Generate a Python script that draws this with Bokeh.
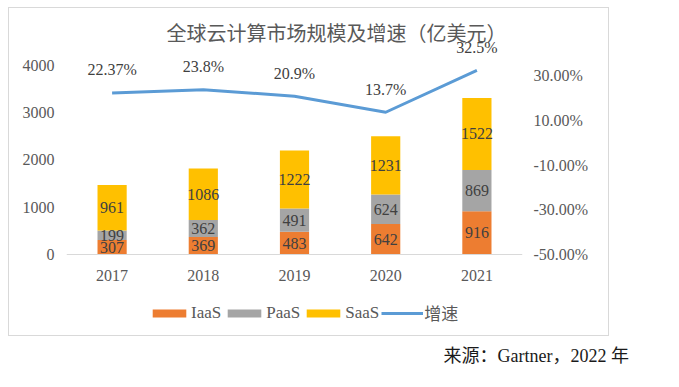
from bokeh.plotting import figure
from bokeh.models import (Range1d, LinearAxis, FactorRange, FixedTicker, PrintfTickFormatter,
                          Legend, LegendItem, Label, LabelSet, ColumnDataSource, Title)
from bokeh.embed import file_html
from bokeh.resources import INLINE

# ---- data ----
years = ["2017", "2018", "2019", "2020", "2021"]
iaas = [307, 369, 483, 642, 916]
paas = [199, 362, 491, 624, 869]
saas = [961, 1086, 1222, 1231, 1522]
growth = [22.37, 23.8, 20.9, 13.7, 32.5]
growth_labels = ["22.37%", "23.8%", "20.9%", "13.7%", "32.5%"]
left_ticks = [0, 1000, 2000, 3000, 4000]
right_ticks = [-50, -30, -10, 10, 30]
series_names = ["IaaS", "PaaS", "SaaS"]
title_text = "全球云计算市场规模及增速（亿美元）"
source_text = "来源：Gartner，2022 年"

SERIF = "'Liberation Serif', 'Noto Sans CJK SC'"
TXT = "#595959"
LBL = "#404040"
COLORS = ["#ED7D31", "#A5A5A5", "#FFC000"]
LINE = "#5B9BD5"
BOX = "#D9D9D9"

# light frame round the chart, painted behind a transparent canvas
g = f"linear-gradient({BOX},{BOX})"
box_style = {
    "background-image": ", ".join([g] * 4),
    "background-size": "601px 1px, 601px 1px, 1px 329px, 1px 329px",
    "background-position": "8px 7px, 8px 335px, 8px 7px, 608px 7px",
    "background-repeat": "no-repeat",
}

# frame spans page y 16..340 and x 66..522; value 0 sits at page y 254
p = figure(width=679, height=387,
           x_range=FactorRange(*years, range_padding=0),
           y_range=Range1d(-1816, 5026),
           output_backend="svg", toolbar_location=None,
           min_border_left=66, min_border_right=157,
           min_border_top=16, min_border_bottom=47,
           styles=box_style)
p.extra_y_ranges = {"pct": Range1d(-88.51, 56.58)}
p.outline_line_color = None
p.xgrid.grid_line_color = None
p.ygrid.grid_line_color = None
p.border_fill_alpha = 0
p.background_fill_alpha = 0

src = ColumnDataSource(dict(years=years, IaaS=iaas, PaaS=paas, SaaS=saas))
bars = p.vbar_stack(series_names, x="years", width=0.32, color=COLORS,
                    line_color=None, source=src)

# segment label positions derived from data
mid_i = [a / 2 for a in iaas]
mid_p = [a + b / 2 for a, b in zip(iaas, paas)]
mid_s = [a + b + c / 2 for a, b, c in zip(iaas, paas, saas)]
lsrc = ColumnDataSource(dict(years=years,
                             mi=mid_i, mp=mid_p, ms=mid_s,
                             ti=[str(v) for v in iaas],
                             tp=[str(v) for v in paas],
                             ts=[str(v) for v in saas]))
for yk, tk in (("mi", "ti"), ("mp", "tp"), ("ms", "ts")):
    p.add_layout(LabelSet(x="years", y=yk, text=tk, source=lsrc,
                          text_align="center", text_baseline="middle",
                          text_font=SERIF, text_font_size="16px", text_color=LBL))

line = p.line(x=years, y=growth, y_range_name="pct", line_width=3, line_color=LINE)
gsrc = ColumnDataSource(dict(years=years, g=growth, t=growth_labels))
p.add_layout(LabelSet(x="years", y="g", text="t", source=gsrc, y_range_name="pct",
                      y_offset=23, text_align="center", text_baseline="middle",
                      text_font=SERIF, text_font_size="16px", text_color=LBL))

# title inside the (taller) frame
p.add_layout(Label(x=100, y=308, x_units="screen", y_units="screen", text=title_text,
                   text_align="left", text_baseline="middle",
                   text_font="'Noto Sans CJK SC'", text_font_size="20px", text_color=TXT))

# axes
ya = p.yaxis[0]
ya.ticker = FixedTicker(ticks=left_ticks)
ya.axis_line_color = None
ya.major_tick_line_color = None
ya.minor_tick_line_color = None
ya.major_tick_out = 0
ya.minor_tick_out = 0
ya.major_label_standoff = 12
ya.major_label_text_font = SERIF
ya.major_label_text_font_size = "16px"
ya.major_label_text_color = TXT

xa = p.xaxis[0]
xa.fixed_location = 0
xa.axis_line_color = BOX
xa.major_tick_line_color = None
xa.minor_tick_line_color = None
xa.major_tick_out = 0
xa.minor_tick_out = 0
xa.major_label_standoff = 15
xa.major_label_text_font = SERIF
xa.major_label_text_font_size = "16px"
xa.major_label_text_color = TXT

ra = LinearAxis(y_range_name="pct", ticker=FixedTicker(ticks=right_ticks),
                formatter=PrintfTickFormatter(format="%.2f%%"))
ra.axis_line_color = None
ra.major_tick_line_color = None
ra.minor_tick_line_color = None
ra.major_tick_out = 0
ra.minor_tick_out = 0
ra.major_label_standoff = 11
ra.major_label_text_font = SERIF
ra.major_label_text_font_size = "16px"
ra.major_label_text_color = TXT
p.add_layout(ra, "right")

# legend inside the frame, under the axis
legend = Legend(items=[LegendItem(label=series_names[0], renderers=[bars[0]]),
                       LegendItem(label=series_names[1], renderers=[bars[1]]),
                       LegendItem(label=series_names[2], renderers=[bars[2]]),
                       LegendItem(label="增速", renderers=[line])],
                orientation="horizontal", location=(82, 15),
                glyph_width=42, glyph_height=10, label_height=16,
                label_standoff=1, spacing=2,
                label_text_font=SERIF, label_text_font_size="17px",
                label_text_color=TXT, border_line_color=None,
                background_fill_alpha=0, padding=0, margin=0)
p.add_layout(legend, "center")

# source note, first panel under the frame
note = Title(text=source_text, align="left", offset=377, standoff=10,
             vertical_align="top",
             text_font=SERIF, text_font_size="18px",
             text_font_style="normal", text_color="#1a1a1a")
p.below = [note] + list(p.below)

open("out.html", "w").write(file_html(p, INLINE))
